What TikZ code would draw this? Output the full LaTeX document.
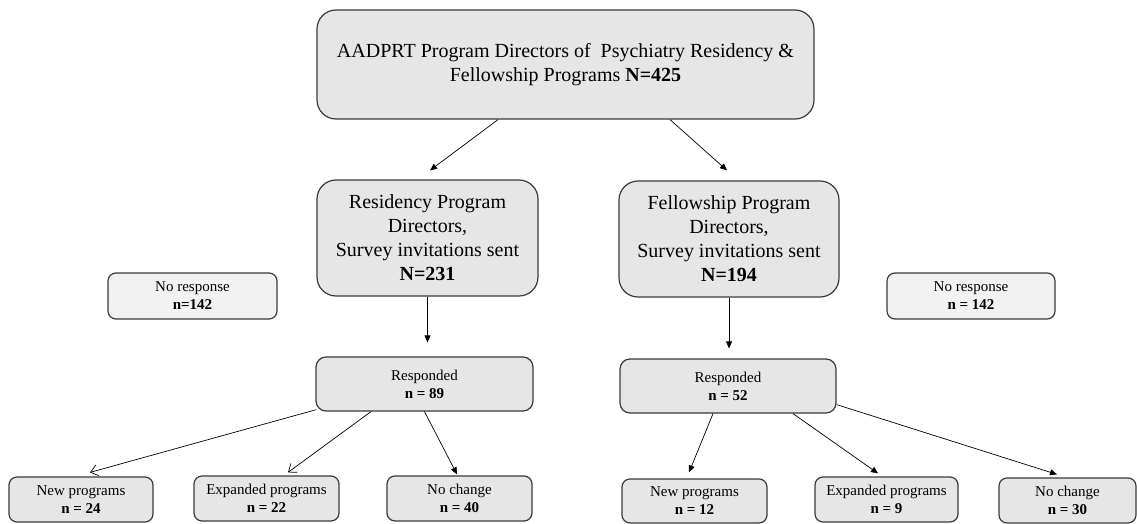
\documentclass[tikz,border=0pt]{standalone}
\usepackage{fontspec}
\setmainfont{Liberation Serif}
\usetikzlibrary{arrows.meta}
\definecolor{boxfill}{HTML}{E6E6E6}
\definecolor{lightfill}{HTML}{F2F2F2}
\definecolor{edge}{HTML}{3A3A3A}
\tikzset{
  bigbox/.style={draw=edge, line width=1.2pt, fill=boxfill, rounded corners=19pt,
    align=center, inner sep=0pt, font=\fontsize{20}{24}\selectfont},
  smallbox/.style={draw=edge, line width=1.2pt, fill=boxfill, rounded corners=8pt,
    align=center, inner sep=0pt, font=\fontsize{15}{18}\selectfont},
  nrbox/.style={smallbox, fill=lightfill},
  fa/.style={draw=black, line width=0.7pt, -{Triangle[length=7pt,width=6pt]}},
  oa/.style={draw=black, line width=0.7pt, -{Straight Barb[length=7pt,width=11pt]}},
}
\begin{document}
\begin{tikzpicture}[x=1pt,y=-1pt]
\useasboundingbox (0,0) rectangle (1137,524);
\fill[white] (0,0) rectangle (1137,524);

\node[bigbox, minimum width=497pt, minimum height=109pt] (top) at (565.5,64.5)
  {AADPRT Program Directors of\ \ Psychiatry Residency \&\\Fellowship Programs \textbf{N=425}};
\node[bigbox, minimum width=221pt, minimum height=116pt] (res) at (427.5,238)
  {Residency Program\\Directors,\\Survey invitations sent\\\textbf{N=231}};
\node[bigbox, minimum width=220pt, minimum height=116pt] (fel) at (729,239)
  {Fellowship Program\\Directors,\\Survey invitations sent\\\textbf{N=194}};

\node[nrbox, minimum width=169pt, minimum height=46pt] (nrL) at (192.5,296)
  {No response\\\textbf{n=142}};
\node[nrbox, minimum width=168pt, minimum height=46pt] (nrR) at (971,296)
  {No response\\\textbf{n = 142}};

\node[smallbox, rounded corners=10pt, minimum width=217pt, minimum height=54pt] (respL) at (424.5,384)
  {Responded\\\textbf{n = 89}};
\node[smallbox, rounded corners=10pt, minimum width=216pt, minimum height=54pt] (respR) at (728,386)
  {Responded\\\textbf{n = 52}};

\node[smallbox, minimum width=144pt, minimum height=45pt] (newL) at (81,499.5)
  {New programs\\\textbf{n = 24}};
\node[smallbox, minimum width=145pt, minimum height=45pt] (expL) at (266.5,498.5)
  {Expanded programs\\\textbf{n = 22}};
\node[smallbox, minimum width=145pt, minimum height=45pt] (ncL) at (459.5,498.5)
  {No change\\\textbf{n = 40}};
\node[smallbox, minimum width=145pt, minimum height=44pt] (newR) at (694.5,501)
  {New programs\\\textbf{n = 12}};
\node[smallbox, minimum width=143pt, minimum height=45pt] (expR) at (886.5,499.5)
  {Expanded programs\\\textbf{n = 9}};
\node[smallbox, minimum width=137pt, minimum height=45pt] (ncR) at (1067.5,500.5)
  {No change\\\textbf{n = 30}};

% top to second level
\draw[fa] ([xshift=-67.5pt]top.south) -- ([xshift=2.5pt,yshift=9pt]res.north);
\draw[fa] ([xshift=104.5pt]top.south) -- ([xshift=-2pt,yshift=10pt]fel.north);

% down to responded
\draw[fa] (res.south) -- ([yshift=14pt]res.south |- respL.north);
\draw[fa] (fel.south) -- ([yshift=10pt]fel.south |- respR.north);

% left responded to outcomes
\draw[oa] ([xshift=1pt,yshift=2pt]respL.south west) -- ([xshift=9pt,yshift=4pt]newL.north);
\draw[oa] ([xshift=-53.5pt]respL.south) -- ([xshift=21.5pt,yshift=3pt]expL.north);
\draw[fa] (respL.south) -- ([xshift=-2.5pt,yshift=1pt]ncL.north);

% right responded to outcomes
\draw[fa] ([xshift=-15pt]respR.south) -- ([xshift=-5.5pt,yshift=6pt]newR.north);
\draw[fa] ([xshift=65pt]respR.south) -- ([xshift=-8.5pt,yshift=3pt]expR.north);
\draw[fa] ([yshift=9pt]respR.south east) -- ([xshift=-10.5pt,yshift=3pt]ncR.north);
\end{tikzpicture}
\end{document}
